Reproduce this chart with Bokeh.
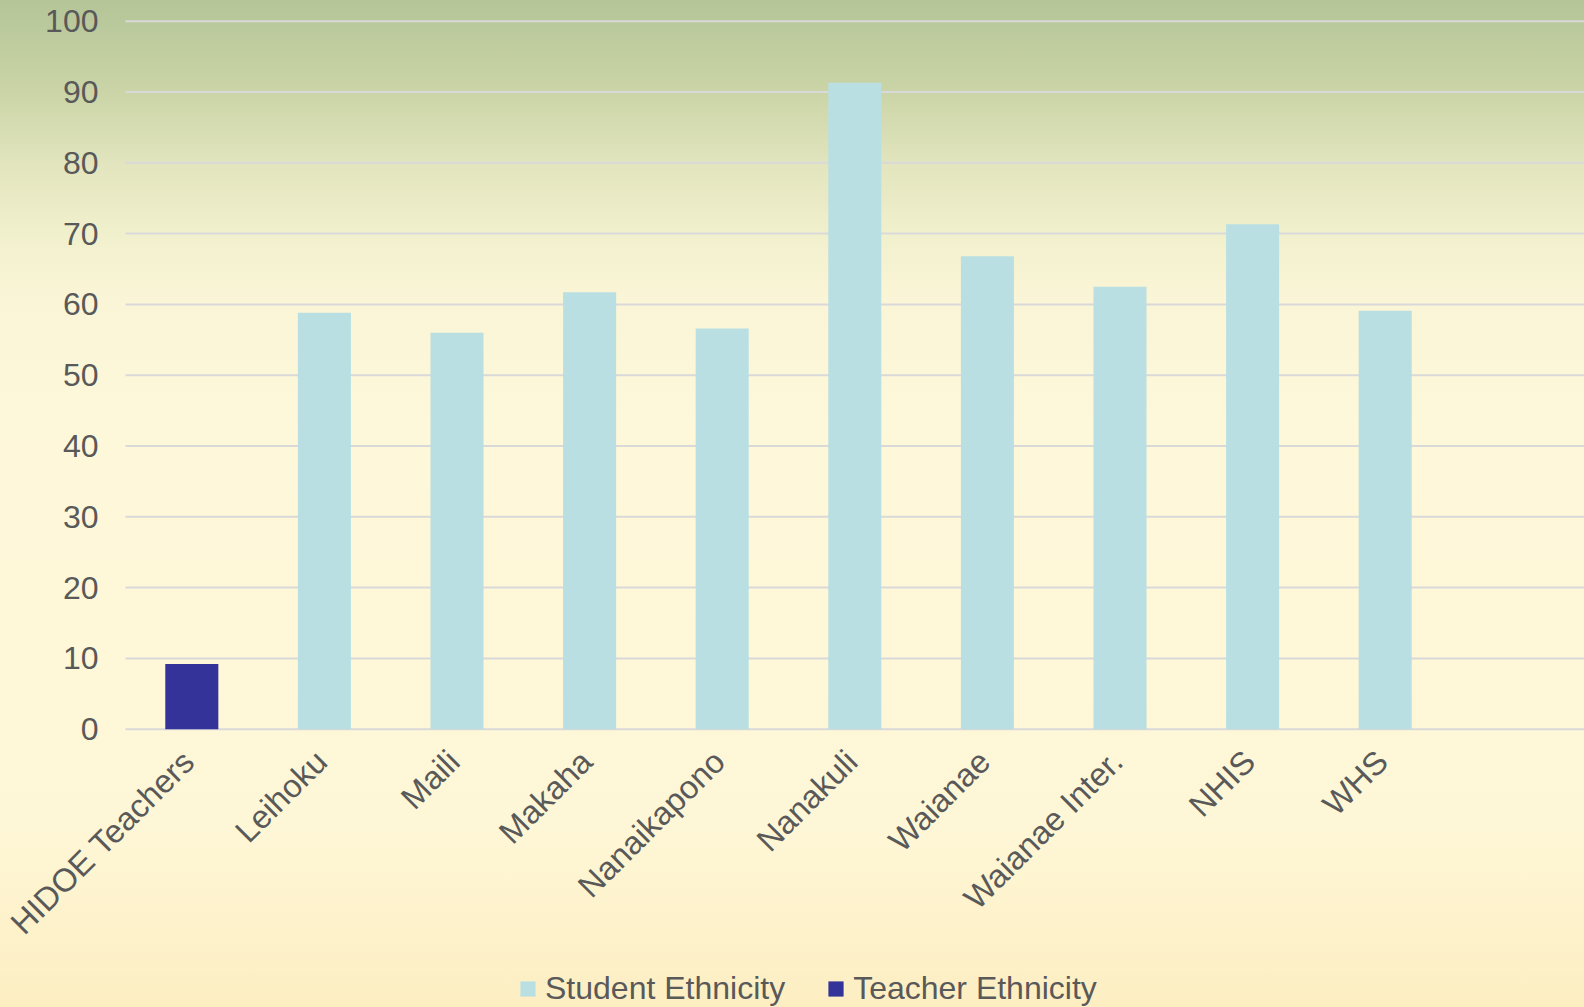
from bokeh.plotting import figure
from bokeh.models import (Range1d, ColumnDataSource, Legend, LegendItem,
                          InlineStyleSheet)
from bokeh.core.properties import value
from bokeh.embed import file_html
from bokeh.resources import INLINE
import math

categories = ["HIDOE Teachers", "Leihoku", "Maili", "Makaha", "Nanaikapono",
              "Nanakuli", "Waianae", "Waianae Inter.", "NHIS", "WHS"]
student_cats = ["Leihoku", "Maili", "Makaha", "Nanaikapono", "Nanakuli",
                "Waianae", "Waianae Inter.", "NHIS", "WHS"]
student_values = [58.8, 56.0, 61.7, 56.6, 91.3, 66.8, 62.5, 71.3, 59.1]
teacher_cats = ["HIDOE Teachers"]
teacher_values = [9.2]
y_ticks = [0, 10, 20, 30, 40, 50, 60, 70, 80, 90, 100]

FONT = "Liberation Sans"
TXT = "#595959"

W, H = 1584, 1007
X0, X1 = -1.4427, 10.503      # plot spans the whole page; category slots start at -0.5
Y0, Y1 = -39.31, 102.92

p = figure(x_range=Range1d(X0, X1), y_range=Range1d(Y0, Y1),
           width=W, height=H, output_backend="svg", toolbar_location=None,
           x_axis_location=None, y_axis_location=None,
           min_border_left=0, min_border_right=0, min_border_top=0,
           min_border_bottom=0)

p.background_fill_color = None
p.border_fill_color = None
p.outline_line_color = None
p.xgrid.visible = False
p.ygrid.visible = False
p.stylesheets = [InlineStyleSheet(css=""":host { background: linear-gradient(to bottom,
  #b4c598 0px, #cad4a6 90px, #e2e5be 165px, #f1f0cd 233px, #faf5d6 300px,
  #fef8da 420px, #fef7d7 820px, #fdeec2 1007px); }""")]

# horizontal gridlines at the value ticks, starting at the category area's left edge
p.segment(x0=[-0.5] * len(y_ticks), x1=[X1] * len(y_ticks), y0=y_ticks, y1=y_ticks,
          line_color="#d9d9d9", line_width=2)

idx = {c: i for i, c in enumerate(categories)}
src_s = ColumnDataSource(dict(x=[idx[c] for c in student_cats], top=student_values))
src_t = ColumnDataSource(dict(x=[idx[c] for c in teacher_cats], top=teacher_values))
r_s = p.vbar(x="x", top="top", width=0.4, source=src_s, fill_color="#b9dfe3", line_color=None)
r_t = p.vbar(x="x", top="top", width=0.4, source=src_t, fill_color="#333399", line_color=None)

# value tick labels
ylab = ColumnDataSource(dict(x=[-0.5] * len(y_ticks), y=y_ticks, text=[str(t) for t in y_ticks]))
p.text(x="x", y="y", text="text", source=ylab, text_align="right", text_baseline="middle",
       x_offset=-27, text_font=value(FONT), text_font_size=value("32px"), text_color=TXT)

# category labels (rotated), anchored at each category position on the zero line
lab_src = ColumnDataSource(dict(x=list(range(len(categories))),
                                y=[0] * len(categories), text=categories))
p.text(x="x", y="y", text="text", source=lab_src, angle=math.pi / 4,
       text_align="right", text_baseline="middle", x_offset=-3, y_offset=27,
       text_font=value(FONT), text_font_size=value("32.5px"), text_color=TXT)

legend = Legend(items=[LegendItem(label="Student Ethnicity", renderers=[r_s]),
                       LegendItem(label="Teacher Ethnicity", renderers=[r_t])],
                orientation="horizontal", location=(518, 0),
                label_text_font=FONT, label_text_font_size="32px",
                label_text_color=TXT, glyph_width=19, glyph_height=19,
                label_standoff=8, spacing=41, padding=0, margin=0,
                background_fill_alpha=0, border_line_color=None)
p.add_layout(legend, "center")

open("out.html", "w").write(file_html(p, INLINE))
